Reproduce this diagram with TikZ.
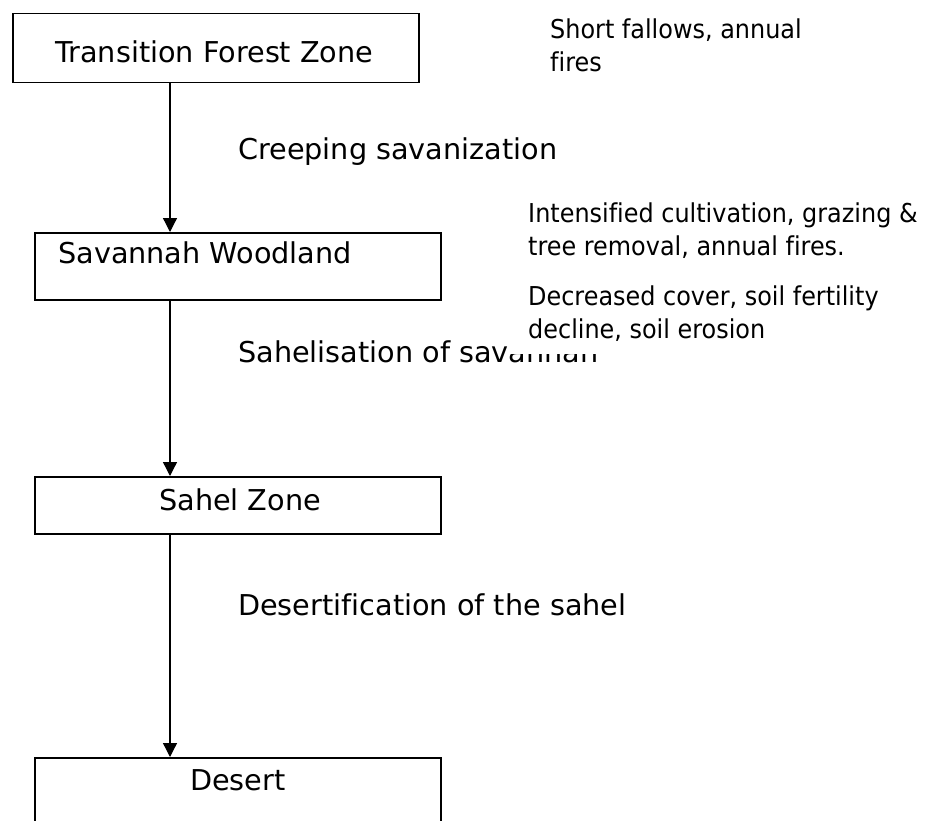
\documentclass[tikz,border=0pt]{standalone}
\usepackage{fontspec}
\setmainfont{DejaVu Sans}[Ligatures=NoCommon]
\newfontfamily\smallfam{DejaVu Sans}[FakeStretch=0.92, Ligatures=NoCommon]
\usetikzlibrary{arrows.meta}
\tikzset{
  zonebox/.style={draw, line width=1.5pt, rectangle, minimum width=406pt, minimum height=67pt, anchor=north west, inner sep=0pt},
  bigtxt/.style={anchor=base west, inner sep=0pt, font=\fontsize{28.7}{34}\selectfont},
  smalltxt/.style={anchor=base west, inner sep=0pt, font=\smallfam\fontsize{26}{33}\selectfont},
  flow/.style={line width=1.3pt, -{Triangle[width=14pt,length=14pt]}}
}
\begin{document}
\begin{tikzpicture}[x=1pt, y={(0pt,-1pt)}]
\clip (0,0) rectangle (928,821);
\fill[white] (0,0) rectangle (928,821);
% boxes
\node[zonebox, minimum height=69pt] (tfz) at (12,13) {};
\node[zonebox] (sw) at (34,232) {};
\node[zonebox, minimum height=57pt] (sz) at (34,476) {};
\node[zonebox] (de) at (34,757) {};
% box texts
\node[bigtxt] (tfzt) at (55,63) {Transition Forest Zone};
\node[bigtxt] (swt) at (58,263) {Savannah Woodland};
\node[bigtxt] (szt) at (159,510) {Sahel Zone};
\node[bigtxt] (det) at (190,790) {Desert};
% connectors
\coordinate (ax) at (170,0);
\draw[flow] (tfz.south -| ax) -- (sw.north -| ax);
\draw[flow] (sw.south -| ax) -- (sz.north -| ax);
\draw[flow] (sz.south -| ax) -- (de.north -| ax);
% process labels
\node[bigtxt] (l1) at (238,160) {Creeping savanization};
\node[bigtxt] (l2) at (238,362) {Sahelisation of savannah};
\node[bigtxt] (l3) at (238,615) {Desertification of the sahel};
% side notes
\node[smalltxt] (n1a) at (550,39) {Short fallows, annual};
\node[smalltxt] (n1b) at (550,72) {fires};
\node[smalltxt] (n2a) at (528,222) {Intensified cultivation, grazing \&};
\node[smalltxt] (n2b) at (528,255) {tree removal, annual fires.};
\fill[white] (509,280) rectangle (915,354);
\node[smalltxt] (n3a) at (528,305) {Decreased cover, soil fertility};
\node[smalltxt] (n3b) at (528,338) {decline, soil erosion};
\end{tikzpicture}
\end{document}
